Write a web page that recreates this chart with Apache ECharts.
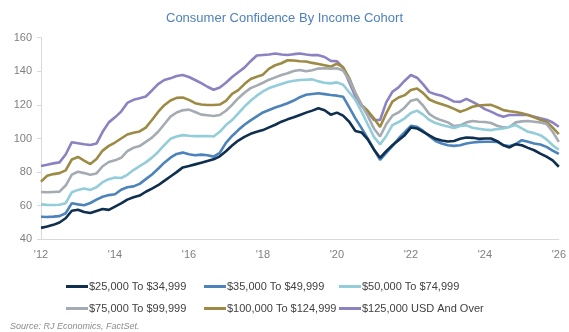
<!DOCTYPE html>
<html><head><meta charset="utf-8">
<script src="https://cdn.jsdelivr.net/npm/echarts@6/dist/echarts.min.js"></script>
<style>html,body{margin:0;padding:0;background:#fff}#c{width:569px;height:332px}</style>
</head><body><div id="c"></div>
<script>
const titleText = "Consumer Confidence By Income Cohort";
const sourceText = "Source: RJ Economics, FactSet.";
const startYear = 2012;
const stepMonths = 2;
const xTicks = [2012, 2014, 2016, 2018, 2020, 2022, 2024, 2026];
const yTicks = [40, 60, 80, 100, 120, 140, 160];
const seriesNames = ["$25,000 To $34,999", "$35,000 To $49,999", "$50,000 To $74,999",
  "$75,000 To $99,999", "$100,000 To $124,999", "$125,000 USD And Over"];

const inc25 = [46.8,47.6,48.6,50.0,52.5,57.0,57.6,56.3,55.6,56.8,58.0,57.5,59.5,61.4,63.6,65.0,66.0,68.3,70.2,72.2,74.8,77.4,80.0,82.8,83.6,84.6,85.6,86.6,87.6,89.4,92.4,95.8,98.8,101.0,102.8,104.0,105.0,106.6,108.2,110.0,111.4,112.6,114.0,115.4,116.6,118.0,116.8,114.2,115.4,113.6,110.0,104.5,103.6,99.5,93.5,88.5,92.5,96.0,99.0,102.0,106.5,106.0,104.0,101.8,99.8,98.8,98.2,98.5,99.8,100.6,100.4,99.8,100.0,100.0,98.4,96.0,94.7,96.6,96.0,94.4,93.0,91.0,89.2,87.0,83.2];
const inc35 = [53.4,53.3,53.5,53.8,55.5,61.5,60.8,60.3,61.6,63.6,65.3,66.3,66.8,69.5,71.0,71.5,73.0,75.8,78.6,82.0,85.6,88.6,90.8,91.6,90.6,90.0,90.4,90.0,89.2,91.5,97.4,101.5,105.0,108.2,110.8,113.2,115.5,117.0,118.4,119.6,121.0,122.6,124.6,126.0,126.5,126.9,126.4,125.9,125.5,124.9,118.5,112.0,106.2,100.0,93.5,87.3,91.5,95.5,100.0,103.8,107.5,107.0,104.5,101.3,98.5,97.0,96.0,95.6,96.0,97.0,97.6,98.0,98.1,98.1,98.0,96.0,95.5,96.6,99.0,98.0,97.0,96.4,95.0,92.8,90.8];
const inc50 = [60.8,60.5,60.4,60.6,61.5,68.0,69.4,70.2,69.4,71.0,74.0,75.8,76.8,76.5,78.4,81.2,83.6,85.8,88.6,92.0,96.0,99.8,101.2,102.0,101.6,101.4,101.4,101.5,101.2,104.0,108.0,111.0,115.0,119.0,122.5,125.5,128.0,130.0,131.2,132.4,133.6,134.4,134.8,135.0,135.2,134.0,133.2,132.8,133.4,132.0,127.5,123.0,116.0,108.5,101.0,96.5,101.5,108.0,109.8,112.0,115.2,116.6,114.2,111.0,109.2,108.0,107.2,106.2,107.4,107.8,106.4,105.8,105.3,105.0,105.6,106.0,107.0,108.0,106.0,104.0,103.2,102.0,99.5,96.0,93.3];
const inc75 = [68.2,68.0,68.2,68.4,72.0,78.5,80.2,79.4,78.4,79.2,83.5,86.0,87.0,88.5,92.5,94.5,95.5,98.0,100.5,104.0,108.5,113.0,115.5,116.8,117.2,115.8,114.2,113.8,113.4,114.0,116.5,120.0,124.0,127.2,130.0,131.5,133.2,135.0,136.4,137.8,138.8,140.2,140.8,140.0,140.6,141.6,141.8,141.6,141.8,140.5,135.0,127.0,120.0,113.5,106.0,101.2,108.5,113.6,115.5,118.5,122.5,123.4,119.5,114.5,112.2,110.8,109.6,107.4,107.8,109.6,110.4,110.0,109.8,109.2,107.6,106.6,106.8,109.6,110.2,110.4,110.0,109.6,108.6,104.0,98.0];
const inc100 = [74.3,77.8,78.8,79.4,81.0,87.5,89.0,86.8,84.8,87.8,92.8,95.6,97.6,100.0,102.4,103.4,104.2,106.5,111.0,115.8,119.8,122.6,124.2,124.4,123.0,121.0,120.2,119.9,119.9,120.2,122.4,126.6,128.8,132.4,135.4,136.8,138.0,141.6,143.6,144.8,146.6,146.4,146.0,145.8,145.0,144.4,143.6,142.8,144.5,142.5,136.0,127.0,120.0,116.5,112.0,106.8,115.0,122.0,124.4,125.8,128.8,129.8,127.0,123.2,121.6,120.4,119.2,117.6,115.9,117.2,118.9,119.6,119.9,120.0,118.6,116.9,116.2,115.8,115.0,114.0,112.6,111.2,109.8,106.5,102.6];
const inc125 = [83.6,84.4,85.2,85.8,90.5,97.8,97.2,96.6,96.1,97.0,104.0,109.6,112.6,116.0,121.2,123.0,124.0,125.0,128.6,132.4,134.8,135.8,137.2,137.8,136.6,134.8,133.0,130.8,129.0,130.4,133.2,136.6,139.4,142.2,146.0,149.4,149.7,150.0,150.6,150.0,149.7,150.2,150.6,150.0,149.6,149.6,148.5,146.2,146.0,142.0,133.5,125.0,119.5,115.8,111.0,111.0,121.5,127.8,130.4,134.4,137.8,136.2,132.2,127.6,126.4,125.4,123.9,122.0,121.8,123.6,121.8,119.8,117.5,116.0,114.2,113.0,114.0,114.0,114.0,114.0,113.0,112.0,111.2,109.5,107.0];

const values = [inc25, inc35, inc50, inc75, inc100, inc125];
const colors = ["#0e2f4f", "#4c83ba", "#93cdd9", "#a5abb2", "#9d8a44", "#8c82c1"];
const fontFam = 'Liberation Sans, Arial, sans-serif';

const chart = echarts.init(document.getElementById('c'), null, {renderer: 'canvas'});
const series = values.map((arr, i) => ({
  name: seriesNames[i],
  type: 'line',
  showSymbol: false,
  symbol: 'none',
  smooth: false,
  lineStyle: {width: 2.6, color: colors[i]},
  itemStyle: {color: colors[i]},
  data: arr.map((v, k) => [startYear + k * stepMonths / 12, v]),
  z: 2 + (5 - i)
}));
function legendCol(left, idx) {
  return {
    orient: 'vertical', left: left, top: 276, itemGap: 11,
    itemWidth: 22, itemHeight: 3,
    textStyle: {fontSize: 11, color: '#404040', fontFamily: fontFam, padding: [0, 0, 0, -4]},
    data: idx.map(i => ({name: seriesNames[i], icon: 'rect', itemStyle: {color: colors[i], borderWidth: 0}})),
    selectedMode: false
  };
}
chart.setOption({
  animation: false,
  color: colors,
  title: [{
    text: titleText, left: 'center', top: 7,
    textStyle: {fontSize: 13, fontWeight: 'normal', color: '#4f81bd', fontFamily: fontFam}
  }, {
    text: sourceText, left: 5, top: 317,
    textStyle: {fontSize: 9, fontStyle: 'italic', fontWeight: 'normal', color: '#8c8c8c', fontFamily: fontFam}
  }],
  legend: [legendCol(61, [0, 3]), legendCol(199, [1, 4]), legendCol(334, [2, 5])],
  grid: {left: 41, right: 6, top: 37.7, bottom: 92.7, containLabel: false},
  xAxis: {
    type: 'value', min: xTicks[0], max: xTicks[xTicks.length - 1], interval: 2,
    axisLine: {show: true, lineStyle: {color: '#d9d9d9', width: 1}},
    axisTick: {show: false},
    splitLine: {show: false},
    axisLabel: {margin: 10, fontSize: 11, color: '#808080', fontFamily: fontFam,
      formatter: v => "'" + String(v).slice(2)}
  },
  yAxis: {
    type: 'value', min: yTicks[0], max: yTicks[yTicks.length - 1], interval: 20,
    axisLine: {show: true, lineStyle: {color: '#d9d9d9', width: 1}},
    axisTick: {show: true, length: 4, lineStyle: {color: '#d9d9d9'}},
    splitLine: {show: false},
    axisLabel: {margin: 9, fontSize: 11, color: '#808080', fontFamily: fontFam}
  },
  series: series
});
</script></body></html>
